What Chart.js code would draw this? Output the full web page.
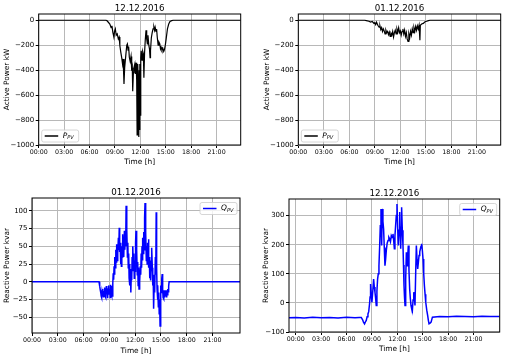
<!DOCTYPE html>
<html>
<head>
<meta charset="utf-8">
<script src="https://cdn.jsdelivr.net/npm/chart.js@4.4.1/dist/chart.umd.min.js"></script>
<style>
  html, body { margin: 0; padding: 0; background: #fff; }
  body { width: 506px; height: 358px; position: relative; overflow: hidden; }
  canvas { position: absolute; }
</style>
</head>
<body>
<canvas id="pDec12" width="253" height="179" style="left:0;top:0"></canvas>
<canvas id="pDec01" width="253" height="179" style="left:253px;top:0"></canvas>
<canvas id="qDec01" width="253" height="179" style="left:0;top:179px"></canvas>
<canvas id="qDec12" width="253" height="179" style="left:253px;top:179px"></canvas>
<script>
// tick labels
const hourTicks = [0, 3, 6, 9, 12, 15, 18, 21];
const activeTicks = [-1000, -800, -600, -400, -200, 0];
const reactiveTicksDec01 = [-50, -25, 0, 25, 50, 75, 100];
const reactiveTicksDec12 = [-100, 0, 100, 200, 300];

// active power 12.12.2016 (kW), time in hours
const pDec12Hours = [0, 2, 4, 6, 7.9, 8.05, 8.22, 8.4, 8.55, 8.65, 8.75, 8.88, 8.95, 9.05, 9.15, 9.27, 9.4, 9.5, 9.58, 9.7,
  9.8, 9.9, 9.97, 10.07, 10.15, 10.3, 10.4, 10.47, 10.55, 10.62, 10.7, 10.8, 10.9, 10.98, 11.05, 11.1, 11.18, 11.25, 11.35, 11.42,
  11.5, 11.57, 11.62, 11.67, 11.72, 11.77, 11.82, 11.87, 11.92, 11.96, 12.0, 12.05, 12.1, 12.2, 12.28, 12.36, 12.42, 12.5, 12.58, 12.67,
  12.75, 12.83, 12.9, 13.0, 13.08, 13.15, 13.2, 13.3, 13.4, 13.5, 13.6, 13.68, 13.75, 13.85, 13.92, 14.0, 14.1, 14.2, 14.3, 14.38,
  14.45, 14.55, 14.65, 14.76, 14.85, 14.95, 15.05, 15.2, 15.35, 15.5, 15.7, 15.9, 18, 21, 23.85];
const pDec12Values = [0, 0, 0, 0, 0, -3, -16, -30, -60, -45, -95, -136, -90, -70, -120, -110, -150, -135, -203, -260,
  -300, -350, -310, -511, -380, -270, -200, -190, -240, -210, -297, -330, -290, -405, -380, -570, -420, -380, -350, -430,
  -340, -480, -920, -430, -350, -560, -935, -400, -880, -350, -760, -300, -244, -320, -250, -270, -460, -260, -160, -80,
  -150, -190, -120, -200, -230, -300, -244, -140, -100, -70, -55, -80, -56, -90, -70, -136, -200, -176, -190, -230,
  -216, -240, -225, -250, -235, -200, -150, -70, -30, -10, -3, 0, 0, 0, 0];

// active power 01.12.2016 (kW)
const pDec01Hours = [0, 3, 6, 7.8, 8.0, 8.3, 8.5, 8.7, 8.9, 9.0, 9.1, 9.2, 9.35, 9.5, 9.6, 9.7, 9.8, 9.9, 10.0, 10.1,
  10.2, 10.3, 10.4, 10.5, 10.6, 10.7, 10.8, 10.9, 11.0, 11.1, 11.2, 11.3, 11.4, 11.5, 11.6, 11.7, 11.8, 11.9, 12.0, 12.1,
  12.2, 12.3, 12.4, 12.5, 12.6, 12.7, 12.8, 12.9, 13.0, 13.1, 13.2, 13.3, 13.4, 13.5, 13.6, 13.7, 13.8, 13.9, 14.0, 14.1,
  14.2, 14.3, 14.35, 14.5, 14.7, 14.9, 15.1, 15.3, 15.5, 18, 21, 23.85];
const pDec01Values = [0, 0, 0, 0, -3, -8, -15, -10, -25, -20, -35, -15, -40, -55, -45, -75, -60, -90, -70, -85,
  -110, -80, -100, -90, -115, -95, -130, -105, -120, -90, -135, -100, -80, -110, -70, -95, -60, -100, -85, -120,
  -90, -70, -110, -80, -130, -100, -150, -170, -110, -140, -90, -120, -70, -100, -60, -90, -50, -80, -45, -70,
  -40, -160, -40, -30, -25, -12, -8, -3, 0, 0, 0, 0];

// reactive power 01.12.2016 (kvar)
const qDec01Hours = [0, 2, 4, 6, 7.8,
  7.85, 7.9, 7.95, 8, 8.05, 8.1, 8.15, 8.2, 8.25, 8.3,
  8.35, 8.4, 8.45, 8.5, 8.55, 8.6, 8.65, 8.7, 8.75, 8.8,
  8.85, 8.9, 8.95, 9, 9.05, 9.1, 9.15, 9.2, 9.25, 9.3,
  9.35, 9.4, 9.45, 9.5, 9.55, 9.6, 9.65, 9.7, 9.75, 9.8,
  9.85, 9.9, 9.95, 10, 10.05, 10.1, 10.15, 10.2, 10.25, 10.3,
  10.35, 10.4, 10.45, 10.5, 10.55, 10.6, 10.65, 10.7, 10.75, 10.8,
  10.85, 10.9, 10.95, 11, 11.05, 11.1, 11.15, 11.2, 11.25, 11.3,
  11.35, 11.4, 11.45, 11.5, 11.55, 11.6, 11.65, 11.7, 11.75, 11.8,
  11.85, 11.9, 11.95, 12, 12.05, 12.1, 12.15, 12.2, 12.25, 12.3,
  12.35, 12.4, 12.45, 12.5, 12.55, 12.6, 12.65, 12.7, 12.75, 12.8,
  12.85, 12.9, 12.95, 13, 13.05, 13.1, 13.15, 13.2, 13.25, 13.3,
  13.35, 13.4, 13.45, 13.5, 13.55, 13.6, 13.65, 13.7, 13.75, 13.8,
  13.85, 13.9, 13.95, 14, 14.05, 14.1, 14.15, 14.2, 14.25, 14.3,
  14.35, 14.4, 14.45, 14.5, 14.55, 14.6, 14.65, 14.7, 14.75, 14.8,
  14.85, 14.9, 14.95, 15, 15.05, 15.1, 15.15, 15.2, 15.25, 15.3,
  15.35, 15.4, 15.45, 15.5, 15.55, 15.6, 15.65, 15.7, 15.75, 15.8,
  15.85, 15.9, 15.95,
  16.5, 18, 21, 24.2];
const qDec01Values = [0, 0, 0, 0, 0,
  0, -6, -12, -15, -20, -22, -14, -20, -10, -21,
  -13, -19, -8, -20, -12, -22, -6, -17, -11, -23,
  -9, -18, -5, -15, -10, -22, -4, -14, -18, -6,
  -20, -2, 12, 3, 22, 10, 35, 20, 45, 28,
  53, 30, 48, 40, 62, 45, 76, 42, 55, 25,
  48, 22, 50, 35, 67, 40, 60, 35, 72, 45,
  65, 50, 107, 55, 74, 35, 55, 20, 40, 5,
  25, -5, 18, -15, 10, 2, 35, 15, 50, 20,
  40, 5, 30, 15, 55, 72, 30, 45, 10, 28,
  -5, 20, -10, 15, 0, 22, 10, 40, 20, 50,
  30, 62, 40, 70, 45, 90, 111, 55, 70, 30,
  50, 25, 55, 35, 60, 20, 35, 5, 25, 2,
  30, 15, 48, 20, -5, 10, -38, -10, 5, -15,
  35, 10, 98, 20, -10, -25, -5, -35, -15, -45,
  -25, -62, -30, -5, -15, 5, 11, -10, -22, -12,
  -24, -15, -22, -12, -20, -17, -22, -12, -18, -10,
  -14, -6, 0,
  0, 0, 0, 0];

// reactive power 12.12.2016 (kvar)
const qDec12Hours = [-0.8, 0, 1, 2, 3, 4, 5, 6, 7, 7.5, 7.74,
  7.9, 8.0, 8.13, 8.25, 8.33, 8.43, 8.53, 8.62, 8.72, 8.78, 8.84, 8.92, 9.0, 9.1, 9.2, 9.28, 9.36, 9.44, 9.51, 9.59,
  9.67, 9.75, 9.83, 9.92, 9.99, 10.07, 10.15, 10.22, 10.3, 10.38, 10.46, 10.54, 10.62, 10.7, 10.8, 10.9, 11.0, 11.09, 11.19,
  11.29, 11.39, 11.49, 11.57, 11.65, 11.72, 11.8, 11.88, 11.96, 12.04, 12.12, 12.2, 12.28, 12.34, 12.4, 12.46, 12.51, 12.59,
  12.67, 12.73, 12.79, 12.85, 12.91, 12.99, 13.07, 13.13, 13.19, 13.25, 13.3, 13.38, 13.46, 13.54, 13.62, 13.7, 13.78, 13.86,
  13.94, 14.02, 14.09, 14.17, 14.25, 14.33, 14.41, 14.49, 14.57, 14.65, 14.73, 14.8, 14.88, 14.96, 15.04, 15.12, 15.2, 15.28,
  15.36, 15.48, 15.59, 15.67, 15.75, 15.87, 15.99, 16.15,
  17, 18, 19, 20, 21, 22, 23, 24.1];
const qDec12Values = [-51, -50, -52, -49, -51, -50, -52, -49, -51, -50, -50,
  -58, -66, -72, -64, -60, -48, -38, -30, -3, 20, 65, 30, 2, 40, 82, 55, 37, 15, -9, 40,
  82, 100, 128, 200, 265, 323, 197, 323, 280, 254, 190, 128, 150, 180, 205, 214, 225, 220, 210,
  231, 225, 237, 215, 186, 230, 266, 300, 340, 260, 197, 250, 312, 240, 186, 260, 329, 250,
  197, 130, 60, 20, -9, 80, 174, 150, 128, 170, 197, 110, 48, 15, -9, -20, -26, 10,
  37, 15, -9, 100, 197, 150, 117, 140, 163, 175, 186, 195, 203, 180, 151, 100, 60, 30,
  2, -25, -44, -60, -72, -70, -66, -49,
  -47, -48, -46, -47, -48, -46, -47, -47];

Chart.defaults.font.family = 'DejaVu Sans';
Chart.defaults.color = '#000';

const framePlugin = {
  id: 'frame',
  afterDraw(chart) {
    const { ctx, chartArea: a } = chart;
    ctx.save();
    ctx.strokeStyle = '#000';
    ctx.lineWidth = 1;
    ctx.strokeRect(a.left, a.top, a.right - a.left, a.bottom - a.top);
    ctx.restore();
  }
};

// legend with subscript symbol, drawn like matplotlib's box
const symbolLegend = {
  id: 'symbolLegend',
  afterDraw(chart, args, opts) {
    if (!opts.main) return;
    const { ctx, chartArea: a } = chart;
    const w = 37, h = 12, gap = 3;
    const x = opts.corner === 'lowerLeft' ? a.left + gap : a.right - w - gap;
    const y = opts.corner === 'lowerLeft' ? a.bottom - h - gap : a.top + gap + 1.5;
    ctx.save();
    ctx.beginPath();
    ctx.roundRect(x, y, w, h, 2);
    ctx.fillStyle = 'rgba(255,255,255,0.8)';
    ctx.fill();
    ctx.strokeStyle = '#cccccc';
    ctx.lineWidth = 0.8;
    ctx.stroke();
    ctx.beginPath();
    ctx.moveTo(x + 3, y + h / 2);
    ctx.lineTo(x + 16.5, y + h / 2);
    ctx.strokeStyle = opts.color;
    ctx.lineWidth = 1.5;
    ctx.stroke();
    ctx.fillStyle = '#000';
    ctx.textBaseline = 'middle';
    ctx.font = 'italic 7.5px "DejaVu Sans"';
    ctx.fillText(opts.main, x + 21, y + h / 2);
    const mw = ctx.measureText(opts.main).width;
    ctx.font = 'italic 5px "DejaVu Sans"';
    ctx.fillText(opts.sub, x + 21 + mw, y + h / 2 + 1.8);
    ctx.restore();
  }
};

const hourLabel = h => String(h).padStart(2, '0') + ':00';
const numLabel = v => v < 0 ? '\u2212' + (-v) : String(v);

function makeChart(id, c) {
  const points = c.hours.map((h, i) => ({ x: h, y: c.values[i] }));
  return new Chart(document.getElementById(id), {
    type: 'line',
    data: {
      datasets: [{
        data: points,
        borderColor: c.color,
        borderWidth: c.lineWidth,
        pointRadius: 0,
        tension: 0
      }]
    },
    plugins: [framePlugin, symbolLegend],
    options: {
      responsive: false,
      animation: false,
      devicePixelRatio: 1,
      layout: { padding: { left: 0, top: 0, bottom: 0, right: c.right } },
      plugins: {
        legend: { display: false },
        tooltip: { enabled: false },
        title: {
          display: true,
          fullSize: false,
          text: c.title,
          font: { size: 8.7, weight: 'normal', lineHeight: 1 },
          padding: { top: c.titleTop, bottom: c.titleBottom }
        },
        symbolLegend: { main: c.main, sub: 'PV', color: c.color, corner: c.corner }
      },
      scales: {
        x: {
          type: 'linear',
          min: c.xMin,
          max: c.xMax,
          afterBuildTicks: s => { s.ticks = hourTicks.map(v => ({ value: v })); },
          afterFit: s => { s.height = c.xHeight; },
          grid: { color: '#b8b8b8', lineWidth: 1, tickLength: 3, tickColor: '#000' },
          border: { display: false },
          ticks: { font: { size: 6.3 }, padding: 0.5, maxRotation: 0, callback: hourLabel },
          title: { display: true, text: 'Time [h]', font: { size: 7.4 }, padding: { top: 0, bottom: c.xTitlePad } }
        },
        y: {
          min: c.yMin,
          max: c.yMax,
          afterBuildTicks: s => { s.ticks = c.yTicks.map(v => ({ value: v })); },
          afterFit: s => { s.width = c.yWidth; },
          grid: { color: '#b8b8b8', lineWidth: 1, tickLength: 3, tickColor: '#000' },
          border: { display: false },
          ticks: { font: { size: 7 }, padding: 1.5, callback: numLabel },
          title: { display: true, text: c.yLabel, font: { size: 7.4 }, padding: { top: c.yTitlePad, bottom: 0 } }
        }
      }
    }
  });
}

makeChart('pDec12', {
  title: '12.12.2016', yLabel: 'Active Power kW', hours: pDec12Hours, values: pDec12Values,
  color: '#000000', lineWidth: 1.2, main: 'P', corner: 'lowerLeft',
  xMin: 0, xMax: 23.85, yMin: -1000, yMax: 50, yTicks: activeTicks,
  yWidth: 38.7, xHeight: 34, right: 12.3, titleTop: 3.95, titleBottom: 1.35, yTitlePad: 2.2, xTitlePad: 12.2
});

makeChart('pDec01', {
  title: '01.12.2016', yLabel: 'Active Power kW', hours: pDec01Hours, values: pDec01Values,
  color: '#000000', lineWidth: 1.2, main: 'P', corner: 'lowerLeft',
  xMin: 0, xMax: 23.8, yMin: -1000, yMax: 50, yTicks: activeTicks,
  yWidth: 45.3, xHeight: 34, right: 5.3, titleTop: 3.95, titleBottom: 1.35, yTitlePad: 9.5, xTitlePad: 12.2
});

makeChart('qDec01', {
  title: '01.12.2016', yLabel: 'Reactive Power kvar', hours: qDec01Hours, values: qDec01Values,
  color: '#0000ff', lineWidth: 1.5, main: 'Q', corner: 'upperRight',
  xMin: 0, xMax: 24.2, yMin: -72, yMax: 118, yTicks: reactiveTicksDec01,
  yWidth: 32, xHeight: 25, right: 13, titleTop: 9.35, titleBottom: 0.95, yTitlePad: 2.2, xTitlePad: 2.2
});

makeChart('qDec12', {
  title: '12.12.2016', yLabel: 'Reactive Power kvar', hours: qDec12Hours, values: qDec12Values,
  color: '#0000ff', lineWidth: 1.5, main: 'Q', corner: 'upperRight',
  xMin: -0.8, xMax: 24.1, yMin: -100, yMax: 357, yTicks: reactiveTicksDec12,
  yWidth: 36, xHeight: 26, right: 6.3, titleTop: 9.9, titleBottom: 1.4, yTitlePad: 8.8, xTitlePad: 4.5
});
</script>
</body>
</html>
